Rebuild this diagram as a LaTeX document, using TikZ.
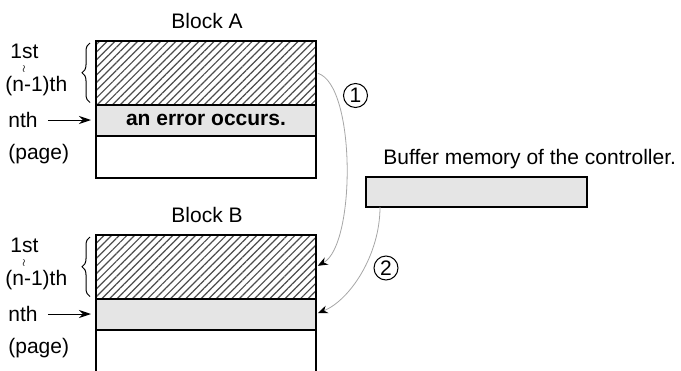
\documentclass[tikz,border=0pt]{standalone}
\usepackage{fontspec}
\setmainfont{Liberation Sans}
\usetikzlibrary{positioning,patterns.meta,arrows.meta,decorations.pathreplacing}
\tikzset{
	hatchbox/.style={draw,line width=1pt,anchor=north west,inner sep=0,outer sep=0,
		minimum width=110pt,minimum height=31.75pt,
		pattern={Lines[angle=45,distance=2.7pt,line width=0.6pt]},pattern color=gray!60!black},
	graybox/.style={draw,line width=1pt,fill=gray!20,inner sep=0,outer sep=0,
		minimum width=110pt,minimum height=15.5pt,font=\fontsize{10.5pt}{12pt}\selectfont\bfseries},
	whitebox/.style={draw,line width=1pt,inner sep=0,outer sep=0,
		minimum width=110pt,minimum height=21pt},
	lbl/.style={anchor=west,inner sep=0},
	brc/.style={decorate,decoration={brace,amplitude=4pt},line width=0.5pt},
	ptr/.style={-{Stealth[length=6pt,width=4pt]},line width=0.5pt},
	flow/.style={draw=gray!70,line width=0.4pt,-{Stealth[length=5pt,width=4pt,black]}},
	circnum/.style={draw,circle,minimum size=12pt,inner sep=0,line width=0.5pt}
}
\newcommand{\pageblock}[3]
{
	\node[anchor=base] (#1title) at (207,#2-13) {Block #1};
	\node[hatchbox] (#1hat) at (96,#2) {};
	\node[graybox,below=0pt of #1hat] (#1err) {#3};
	\node[whitebox,below=0pt of #1err] (#1pg) {};
	\node[lbl] (#1first) at (10,#2+10) {1st};
	\node[inner sep=0] (#1til) at (24,#2+28) {\tiny$\wr$};
	\node[lbl] (#1last) at (5,#2+45.5) {(n-1)th};
	\node[lbl] (#1nth) at (8,#2+79) {nth};
	\node[lbl] (#1page) at (8,#2+113) {(page)};
	\draw[brc] ([xshift=-3pt,yshift=1pt]#1hat.south west) -- ([xshift=-3pt,yshift=-1pt]#1hat.north west);
	\draw[ptr,shorten <=5pt,shorten >=2.5pt] (#1nth.east) -- (#1nth.east -| #1err.west);
}

\begin{document}
\begin{tikzpicture}[x=0.5pt,y=-0.5pt,font=\fontsize{10.5pt}{12pt}\selectfont]
	\clip[use as bounding box] (0,0) rectangle (681,370);
	\pageblock{A}{41}{an error occurs.}
	\pageblock{B}{235}{}
	\node[graybox,minimum width=110.5pt,minimum height=15pt] (buf) at (476.5,192) {};
	\node[anchor=base west,inner sep=0] (buftxt) at (383,164) {Buffer memory of the controller.};
	\node[circnum] (n1) at (355.5,95.5) {1};
	\node[circnum] (n2) at (386,268) {2};
	\draw[flow,shorten <=1pt,shorten >=1pt] (Ahat.east) .. controls (356,85) and (356,245) .. (Bhat.east);
	\draw[flow,shorten >=1pt] ([xshift=7pt]buf.south west) .. controls (380,255) and (350,300) .. (Berr.east);
\end{tikzpicture}
\end{document}
